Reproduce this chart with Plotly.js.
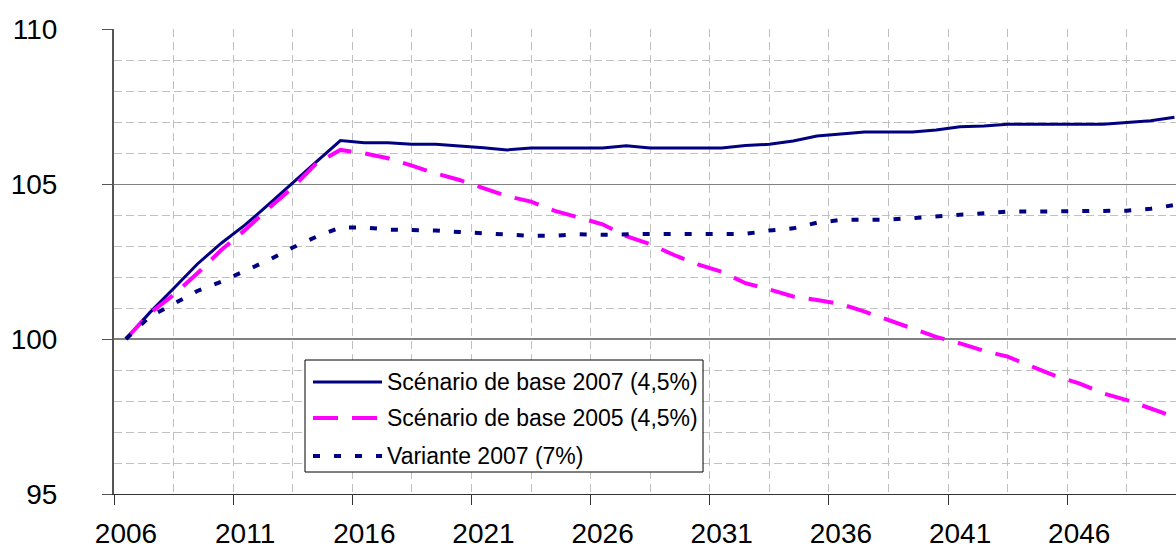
<!DOCTYPE html>
<html>
<head>
<meta charset="utf-8">
<script src="https://cdn.plot.ly/plotly-3.0.1.min.js"></script>
<style>
  html, body { margin: 0; padding: 0; background: #fff; }
  #chart { width: 1176px; height: 549px; }
</style>
</head>
<body>
<div id="chart"></div>
<script>
const years = [];
for (let y = 2006; y <= 2050; y++) years.push(y);

const seriesNames = [
  "Scénario de base 2007 (4,5%)",
  "Scénario de base 2005 (4,5%)",
  "Variante 2007 (7%)"
];

const base2007 = [
  100, 100.85, 101.63, 102.42, 103.09, 103.68, 104.35, 105.02, 105.72, 106.40,
  106.33, 106.33, 106.28, 106.28, 106.23, 106.17, 106.10, 106.16, 106.16, 106.16,
  106.16, 106.23, 106.16, 106.16, 106.16, 106.16, 106.24, 106.28, 106.39, 106.55,
  106.61, 106.68, 106.68, 106.68, 106.74, 106.85, 106.87, 106.93, 106.93, 106.93,
  106.93, 106.93, 106.98, 107.04, 107.15
];

const base2005 = [
  100, 100.83, 101.42, 102.12, 102.87, 103.52, 104.22, 104.89, 105.67, 106.10,
  105.99, 105.83, 105.59, 105.34, 105.13, 104.86, 104.61, 104.43, 104.13, 103.92,
  103.70, 103.32, 103.06, 102.71, 102.41, 102.17, 101.80, 101.60, 101.37, 101.26,
  101.13, 100.88, 100.61, 100.34, 100.07, 99.86, 99.62, 99.43, 99.11, 98.81,
  98.57, 98.25, 98.03, 97.76, 97.49
];

const variante2007 = [
  100, 100.72, 101.13, 101.55, 101.85, 102.20, 102.55, 102.95, 103.30, 103.60,
  103.60, 103.53, 103.53, 103.50, 103.45, 103.40, 103.37, 103.33, 103.33, 103.38,
  103.36, 103.39, 103.39, 103.39, 103.39, 103.39, 103.39, 103.50, 103.57, 103.75,
  103.84, 103.85, 103.85, 103.90, 103.95, 104.00, 104.05, 104.11, 104.11, 104.11,
  104.11, 104.11, 104.14, 104.20, 104.32
];

const xTickLabels = ["2006", "2011", "2016", "2021", "2026", "2031", "2036", "2041", "2046"];
const yTickVals = [95, 100, 105, 110];

const FONT = "Arial, 'Liberation Sans', sans-serif";
const NAVY = "#000080";
const MAGENTA = "#FF00FF";

// category boundaries (ticks sit between categories)
const xTickVals = xTickLabels.map(t => Number(t) - 0.5);
const xMinorVals = xTickVals.map(v => v + 2.5);

const traces = [
  { x: years, y: base2007, type: "scatter", mode: "lines", name: seriesNames[0],
    line: { color: NAVY, width: 3 }, showlegend: false },
  { x: years, y: base2005, type: "scatter", mode: "lines", name: seriesNames[1],
    line: { color: MAGENTA, width: 4, dash: "25px,14px" }, showlegend: false },
  { x: years, y: variante2007, type: "scatter", mode: "lines", name: seriesNames[2],
    line: { color: NAVY, width: 4, dash: "7px,14px" }, showlegend: false }
];

// pixel -> paper helpers for legend placement
const L = 114, T = 29, W = 1062, H = 465;
const px = v => (v - L) / W;
const py = v => (T + H - v) / H;

const legendRows = [382, 418, 456];
const legendStyles = [
  { color: NAVY, width: 3, dash: "solid" },
  { color: MAGENTA, width: 4, dash: "25px,14px" },
  { color: NAVY, width: 4, dash: "7px,14px" }
];

const shapes = [
  { type: "line", xref: "paper", yref: "y", x0: 0, x1: 1, y0: 100, y1: 100,
    line: { color: "#000000", width: 1 }, layer: "between" },
  { type: "rect", xref: "paper", yref: "paper", x0: px(305), x1: px(703), y0: py(472), y1: py(360),
    fillcolor: "#ffffff", line: { color: "#000000", width: 1 }, layer: "above" }
];
legendRows.forEach((r, i) => {
  shapes.push({ type: "line", xref: "paper", yref: "paper", x0: px(313), x1: px(382), y0: py(r), y1: py(r),
    line: legendStyles[i], layer: "above" });
});

const annotations = legendRows.map((r, i) => ({
  xref: "paper", yref: "paper", x: px(385), y: py(r), xanchor: "left", yanchor: "middle",
  text: seriesNames[i], showarrow: false, font: { family: FONT, size: 23, color: "#000" }
}));

const layout = {
  width: 1176, height: 549,
  margin: { l: L, r: 1176 - L - W, t: T, b: 549 - T - H },
  paper_bgcolor: "#ffffff", plot_bgcolor: "#ffffff",
  font: { family: FONT, color: "#000" },
  showlegend: false,
  xaxis: {
    range: [2005.5, 2005.5 + W / 23.83],
    tickmode: "array", tickvals: xTickVals, ticktext: xTickLabels,
    ticks: "outside", ticklen: 10, tickwidth: 1, tickcolor: "#333",
    ticklabelshift: 12, ticklabelstandoff: 4,
    tickfont: { family: FONT, size: 28, color: "#000" },
    showline: true, linecolor: "#333", linewidth: 1,
    showgrid: true, gridcolor: "#c0c0c0", gridwidth: 1, griddash: "8px,5px",
    minor: { tickmode: "array", tickvals: xMinorVals, showgrid: true, gridcolor: "#c0c0c0",
             gridwidth: 1, griddash: "8px,5px", ticks: "" },
    zeroline: false, fixedrange: true
  },
  yaxis: {
    range: [95, 110],
    tickmode: "array", tickvals: yTickVals, ticktext: yTickVals.map(String),
    ticks: "outside", ticklen: 10, tickwidth: 1, tickcolor: "#555",
    ticklabelstandoff: 39,
    tickfont: { family: FONT, size: 28, color: "#000" },
    showline: true, linecolor: "#555", linewidth: 2,
    showgrid: true, gridcolor: "#808080", gridwidth: 1,
    minor: { dtick: 1, showgrid: true, gridcolor: "#c0c0c0", gridwidth: 1, griddash: "8px,4px", ticks: "" },
    zeroline: false, fixedrange: true
  },
  shapes: shapes,
  annotations: annotations
};

Plotly.newPlot("chart", traces, layout, { staticPlot: true, displayModeBar: false });
</script>
</body>
</html>
